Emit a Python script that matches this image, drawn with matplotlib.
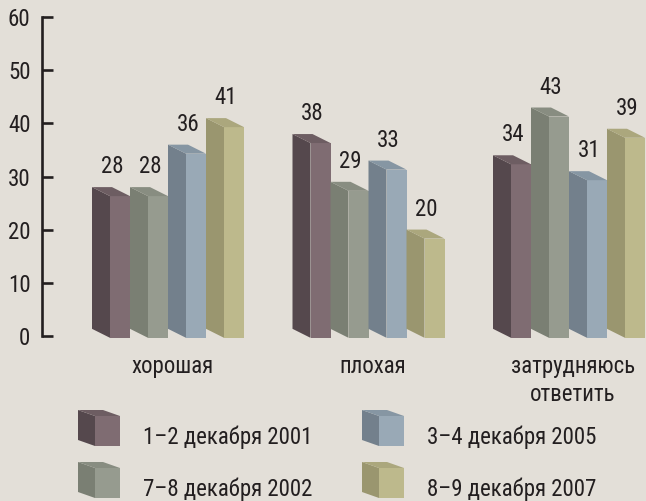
import matplotlib.pyplot as plt
from matplotlib.patches import Polygon

# survey data (per cent)
categories = ['хорошая', 'плохая', 'затрудняюсь\nответить']
series = ['1–2 декабря 2001', '7–8 декабря 2002', '3–4 декабря 2005', '8–9 декабря 2007']
dec2001 = [28, 38, 34]
dec2002 = [28, 29, 43]
dec2005 = [36, 33, 31]
dec2007 = [41, 20, 39]
yticks = [0, 10, 20, 30, 40, 50, 60]

values = [dec2001, dec2002, dec2005, dec2007]

# (side, front, top) colours for each series
colors = [
    ('#55484d', '#7f6c72', '#6d5d62'),
    ('#7a7f73', '#969b8f', '#888d81'),
    ('#73808c', '#99a9b6', '#8696a3'),
    ('#9a966f', '#bdb98c', '#aba77d'),
]

BG = '#e3dfd8'
DARK = '#231f20'
FS = 16.5
plt.rcParams['font.family'] = ['Roboto Condensed', 'Liberation Sans', 'DejaVu Sans']

W, H = 646, 501
fig = plt.figure(figsize=(W / 100, H / 100), dpi=100, facecolor=BG)
y0_px, y60_px = 335.7, 17.3
ax = fig.add_axes([41.5 / W, (H - y0_px) / H, (W - 41.5) / W, (y0_px - y60_px) / H])
ax.set_facecolor(BG)
ax.set_xlim(41.5, W)
ax.set_ylim(0, 60)
upx = 60 / (y0_px - y60_px)  # value units per pixel


def px_to_val(py):
    return (y0_px - py) * upx


def draw_box(x_back, bottom, top, depth_x, front_w, depth_y, cols):
    side, front, topc = cols
    xf = x_back + depth_x
    ax.add_patch(Polygon([(x_back, bottom + depth_y), (xf, bottom), (xf, top), (x_back, top + depth_y)],
                         closed=True, facecolor=side, edgecolor='none', clip_on=False))
    ax.add_patch(Polygon([(xf, bottom), (xf + front_w, bottom), (xf + front_w, top), (xf, top)],
                         closed=True, facecolor=front, edgecolor='none', clip_on=False))
    ax.add_patch(Polygon([(x_back, top + depth_y), (xf, top), (xf + front_w, top), (x_back + front_w, top + depth_y)],
                         closed=True, facecolor=topc, edgecolor='none', clip_on=False))


# bars
group_x0, group_step, bar_step = 92, 200.5, 38
depth_px, front_px = 18, 20
dy = 9 * upx
base = -0.4
for g in range(len(categories)):
    for s in range(len(series)):
        v = values[s][g]
        xb = group_x0 + g * group_step + s * bar_step
        draw_box(xb, base, v - dy, depth_px, front_px, dy, colors[s])
        ax.text(xb + 20, v + 2.6, str(v), ha='center', va='baseline',
                fontsize=FS, color=DARK, clip_on=False)
    lines = categories[g].split('\n')
    cx = group_x0 + g * group_step + 80
    for i, line in enumerate(lines):
        ax.text(cx, px_to_val(373 + 28 * i), line, ha='center', va='baseline',
                fontsize=FS, color=DARK, clip_on=False)

# legend
leg_x = [78, 362]
leg_y = [446, 498]
for s, name in enumerate(series):
    col, row = s // 2, s % 2
    bottom_px = leg_y[row]
    draw_box(leg_x[col], px_to_val(bottom_px), px_to_val(bottom_px - 30), 17, 25, 6 * upx, colors[s])
    ax.text(leg_x[col] + 65, px_to_val(bottom_px - 2), name, ha='left', va='baseline',
            fontsize=FS, color=DARK, clip_on=False)

# axis
for side in ['top', 'right', 'bottom']:
    ax.spines[side].set_visible(False)
ax.spines['left'].set_linewidth(1.9)
ax.spines['left'].set_color(DARK)
ax.set_xticks([])
ax.set_yticks(yticks)
ax.tick_params(axis='y', direction='in', length=8, width=1.9, colors=DARK,
               labelsize=FS, pad=8)

fig.savefig('out.png', dpi=100, facecolor=BG)
